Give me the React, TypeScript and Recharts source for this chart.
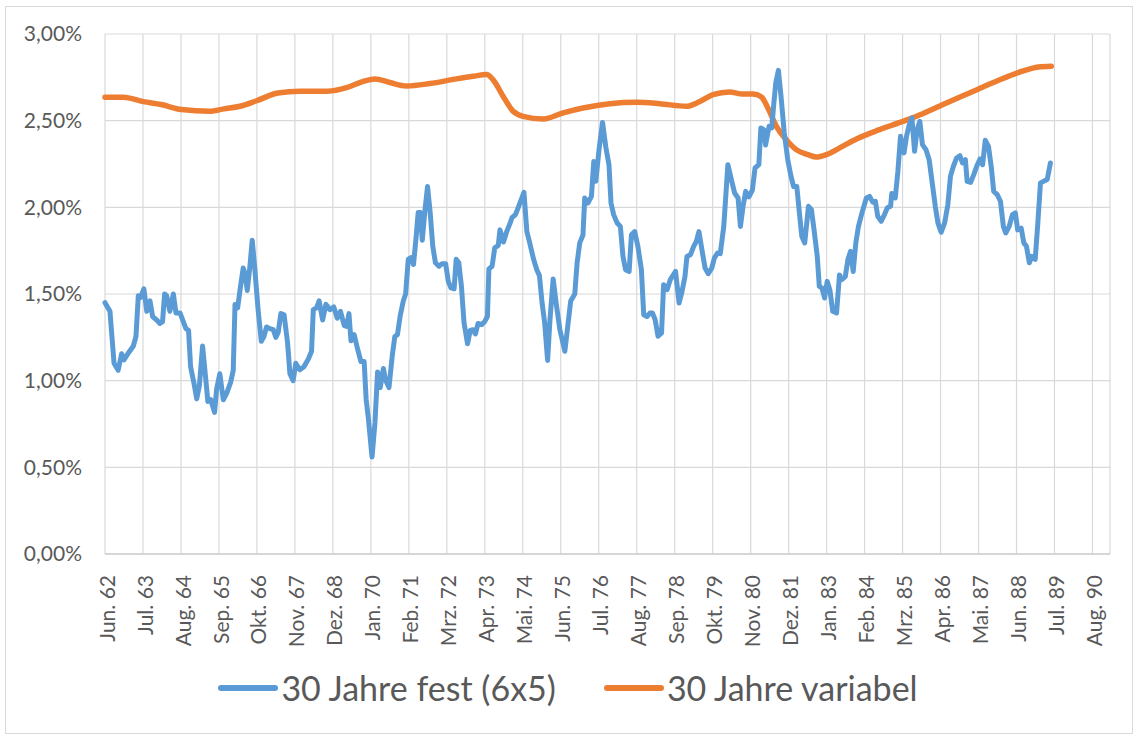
import { LineChart, Line, XAxis, YAxis, CartesianGrid } from 'recharts';

// month index 0 = Jun. 62; labels every 13 months, as on the original axis
const tickLabels = [
  'Jun. 62', 'Jul. 63', 'Aug. 64', 'Sep. 65', 'Okt. 66', 'Nov. 67', 'Dez. 68',
  'Jan. 70', 'Feb. 71', 'Mrz. 72', 'Apr. 73', 'Mai. 74', 'Jun. 75', 'Jul. 76',
  'Aug. 77', 'Sep. 78', 'Okt. 79', 'Nov. 80', 'Dez. 81', 'Jan. 83', 'Feb. 84',
  'Mrz. 85', 'Apr. 86', 'Mai. 87', 'Jun. 88', 'Jul. 89', 'Aug. 90',
];
const tickMonths = tickLabels.map((_, i) => i * 13);
const lastMonth = 344;

const yTicks = [0, 0.5, 1, 1.5, 2, 2.5, 3];

// 30 Jahre fest (6x5): [month, rate in %]
const fixedSeries: [number, number][] = [
  [0, 1.45], [1.7, 1.4], [3.1, 1.1], [4.5, 1.06], [5.7, 1.155], [6.5, 1.12], [8, 1.16],
  [9.7, 1.2], [10.6, 1.255], [11.4, 1.49], [12.2, 1.48], [13.3, 1.53], [14.3, 1.4],
  [15.4, 1.46], [16.3, 1.37], [17.7, 1.35], [18.8, 1.33], [19.7, 1.34], [20.4, 1.5],
  [21.1, 1.49], [22.2, 1.4], [23.4, 1.5], [24.3, 1.39], [25.7, 1.39], [26.8, 1.34],
  [27.7, 1.3], [28.6, 1.29], [29.3, 1.08], [30.4, 0.99], [31.4, 0.895], [32.3, 0.97],
  [33.4, 1.2], [34.6, 0.99], [35.2, 0.88], [36.2, 0.89], [37.5, 0.817], [38.2, 0.95],
  [39.3, 1.04], [40.5, 0.89], [41.6, 0.925], [43, 0.99], [43.9, 1.06], [44.5, 1.44],
  [45.4, 1.42], [46.4, 1.545], [47.3, 1.65], [47.9, 1.62], [48.7, 1.52], [49.6, 1.66],
  [50.4, 1.81], [51.3, 1.64], [52.4, 1.41], [53.5, 1.227], [54.4, 1.255], [55.3, 1.31],
  [56.4, 1.3], [57.6, 1.294], [58.5, 1.25], [59.3, 1.28], [60.2, 1.387], [61.3, 1.38],
  [62.5, 1.217], [63.3, 1.04], [64.4, 1.0], [65.3, 1.1], [66.7, 1.063], [68.1, 1.08],
  [69.6, 1.125], [70.7, 1.17], [71.3, 1.41], [72.4, 1.42], [73.3, 1.46], [74.5, 1.35],
  [75.6, 1.44], [77, 1.41], [78.3, 1.425], [79.5, 1.36], [80.6, 1.4], [81.9, 1.317],
  [82.7, 1.313], [83.5, 1.387], [84.2, 1.23], [85.3, 1.265], [86.5, 1.18], [87.6, 1.11],
  [88.7, 1.11], [89.4, 0.89], [90.1, 0.79], [91.4, 0.56], [92.4, 0.756], [93.3, 1.05],
  [94.2, 0.96], [95.3, 1.07], [96, 1.006], [97.2, 0.96], [98.3, 1.14], [99.2, 1.255],
  [100.1, 1.265], [101, 1.37], [102.1, 1.46], [102.9, 1.5], [103.8, 1.7], [104.7, 1.71],
  [105.6, 1.67], [106.5, 1.83], [107.2, 1.97], [107.9, 1.97], [108.6, 1.81], [109.5, 1.98],
  [110.4, 2.12], [111.3, 1.97], [112.2, 1.775], [113.1, 1.68], [114.3, 1.66], [115.4, 1.675],
  [116.6, 1.675], [117.5, 1.573], [118.4, 1.535], [119.5, 1.53], [120.2, 1.7], [121.1, 1.68],
  [122, 1.544], [122.9, 1.333], [124.1, 1.213], [125, 1.29], [125.9, 1.294], [126.8, 1.27],
  [127.7, 1.33], [128.9, 1.323], [130, 1.342], [130.9, 1.37], [131.4, 1.645], [132.5, 1.66],
  [133.4, 1.766], [134.6, 1.78], [135.2, 1.87], [136.4, 1.8], [137.5, 1.86], [138.7, 1.91],
  [139.3, 1.94], [140.5, 1.958], [141.6, 2.006], [143.4, 2.087], [144.4, 1.86], [145.3, 1.8],
  [146.7, 1.7], [147.8, 1.64], [148.7, 1.606], [149.6, 1.45], [150.5, 1.333], [151.5, 1.117],
  [152.3, 1.35], [153.4, 1.587], [154.4, 1.45], [155.7, 1.294], [157.4, 1.17], [159.4, 1.46],
  [160.8, 1.5], [161.6, 1.68], [162.5, 1.795], [163.6, 1.84], [164.2, 2.054], [165.3, 2.025],
  [166.5, 2.063], [167.3, 2.265], [168, 2.15], [169.1, 2.333], [170.3, 2.49], [171.4, 2.35],
  [172.5, 2.246], [173.2, 2.025], [174.1, 1.958], [175.3, 1.91], [176.4, 1.89], [177.3, 1.717],
  [178.2, 1.64], [179.4, 1.63], [180.2, 1.842], [181.3, 1.86], [182.4, 1.775], [183.6, 1.64],
  [184.4, 1.38], [185.5, 1.37], [186.5, 1.39], [187.4, 1.39], [188.3, 1.352], [189.3, 1.256],
  [190.5, 1.275], [191.2, 1.554], [192.4, 1.525], [193.5, 1.583], [195.3, 1.63], [196.5, 1.448],
  [197.4, 1.506], [198.5, 1.6], [199.2, 1.717], [200.4, 1.727], [201.5, 1.775], [202.4, 1.804],
  [203.3, 1.86], [204.5, 1.737], [205.4, 1.65], [206.5, 1.617], [207.7, 1.65], [208.6, 1.708],
  [209.7, 1.737], [210.6, 1.733], [211.8, 1.89], [213.2, 2.246], [214.4, 2.16], [215.5, 2.083],
  [216.7, 2.054], [217.5, 1.89], [218.4, 2.006], [219.3, 2.092], [220.4, 2.06], [221.6, 2.1],
  [222.5, 2.227], [223.8, 2.246], [224.5, 2.458], [225.5, 2.448], [226.1, 2.36], [227.3, 2.467],
  [228.2, 2.458], [228.9, 2.593], [229.6, 2.718], [230.5, 2.79], [231.4, 2.64], [232.5, 2.43],
  [233.7, 2.275], [234.8, 2.18], [235.7, 2.12], [236.8, 2.12], [237.8, 1.948], [238.5, 1.833],
  [239.5, 1.795], [240.8, 2.006], [241.8, 1.987], [242.7, 1.87], [243.8, 1.717], [244.5, 1.544],
  [245.4, 1.535], [246.3, 1.477], [247.2, 1.573], [248.1, 1.525], [249.1, 1.4], [250.4, 1.39],
  [251.4, 1.61], [252.2, 1.583], [253.4, 1.6], [254.3, 1.7], [255.2, 1.746], [256.1, 1.63],
  [257, 1.795], [257.9, 1.89], [259.1, 1.968], [260.6, 2.054], [261.7, 2.063], [262.8, 2.03],
  [263.7, 2.035], [264.5, 1.948], [265.7, 1.92], [266.8, 1.958], [267.8, 1.997], [268.9, 2.006],
  [269.3, 2.08], [270.5, 2.054], [271.4, 2.208], [272.3, 2.41], [273.5, 2.314], [274.4, 2.414],
  [275.3, 2.477], [276.2, 2.516], [277.1, 2.323], [278, 2.448], [278.9, 2.496], [279.8, 2.362],
  [281, 2.333], [282.1, 2.275], [283, 2.16], [284.2, 2.006], [285.1, 1.91], [286.2, 1.856],
  [287.4, 1.91], [288.5, 2.016], [289.4, 2.18], [290.4, 2.237], [291.5, 2.285], [292.6, 2.298],
  [293.5, 2.256], [294.5, 2.275], [295.1, 2.15], [296.3, 2.144], [297.4, 2.19], [298.6, 2.246],
  [299.5, 2.279], [300.4, 2.246], [301.3, 2.387], [302.4, 2.352], [303.4, 2.227], [304.2, 2.092],
  [305.4, 2.073], [306.5, 2.035], [307.5, 1.89], [308.3, 1.852], [309.5, 1.89], [310.6, 1.958],
  [311.6, 1.968], [312.4, 1.87], [313.6, 1.88], [314.5, 1.795], [315.4, 1.775], [316.4, 1.68],
  [317.2, 1.717], [318.4, 1.7], [319.3, 1.91], [320.2, 2.14], [321.3, 2.15], [322.5, 2.16],
  [323.6, 2.256],
];

// 30 Jahre variabel: [month, rate in %]
const variableSeries: [number, number][] = [
  [0, 2.635], [6.3, 2.635], [13.1, 2.61], [19.2, 2.593], [26.2, 2.564], [35.9, 2.554],
  [40.7, 2.568], [46.2, 2.583], [51.9, 2.615], [59.2, 2.66], [66.7, 2.67], [76.3, 2.67],
  [82.7, 2.69], [88.4, 2.727], [92.4, 2.741], [97.5, 2.72], [103.2, 2.7], [111.2, 2.714],
  [120.3, 2.741], [126, 2.756], [130.6, 2.766], [132.8, 2.737], [136.3, 2.64], [139.7, 2.554],
  [143.1, 2.525], [150, 2.51], [156.8, 2.545], [163.6, 2.573], [172.8, 2.598], [181.9, 2.606],
  [189.9, 2.598], [199, 2.583], [203.6, 2.61], [208.1, 2.65], [213.8, 2.666], [217.8, 2.654],
  [221.8, 2.654], [224.7, 2.637], [226.9, 2.573], [229.8, 2.467], [233.2, 2.39], [236.6, 2.333],
  [240.6, 2.304], [243.5, 2.29], [246.9, 2.304], [251.5, 2.343], [257.2, 2.394], [265.1, 2.448],
  [273.1, 2.496], [279.9, 2.54], [288, 2.602], [295.9, 2.66], [305.1, 2.727], [313, 2.78],
  [319.5, 2.81], [323.9, 2.814],
];

const fixedData = fixedSeries.map(([m, v]) => ({ m, v }));
const variableData = variableSeries.map(([m, v]) => ({ m, v }));

const BLUE = '#5B9BD5';
const ORANGE = '#ED7D31';
const TEXT = '#595959';
const FONT = 'Lato, "Open Sans", sans-serif';

const labelFor = (m: number) => tickLabels[Math.round(m / 13)] ?? '';

const XTick = ({ x, y, payload }: any) => (
  <g transform={`translate(${x + 2},${y})`}>
    <text
      transform="rotate(-90)"
      x={-13}
      y={0}
      dy="0.36em"
      textAnchor="end"
      fill={TEXT}
      fontSize={21}
      fontFamily={FONT}
    >
      {labelFor(payload.value)}
    </text>
  </g>
);

export default function App() {
  return (
    <div style={{ position: 'absolute', left: 0, top: 0, width: 1136, height: 736, background: '#fff' }}>
      <div
        style={{
          position: 'absolute',
          left: 5,
          top: 6,
          width: 1126,
          height: 726,
          border: '1px solid #d9d9d9',
        }}
      />
      <div style={{ position: 'absolute', left: 0, top: 0 }}>
        <LineChart width={1136} height={736} margin={{ top: 34, right: 26, left: 0, bottom: 82 }}>
          <CartesianGrid stroke="#d9d9d9" strokeWidth={1.2} />
          <XAxis
            type="number"
            dataKey="m"
            domain={[0, lastMonth]}
            ticks={tickMonths}
            interval={0}
            height={100}
            tick={<XTick />}
            tickLine={false}
            stroke="#cfcfcf"
            strokeWidth={1.5}
          />
          <YAxis
            type="number"
            domain={[0, 3]}
            ticks={yTicks}
            width={105}
            axisLine={false}
            tickLine={false}
            tickSize={0}
            tickMargin={23}
            tickFormatter={(v: number) => v.toFixed(2).replace('.', ',') + '%'}
            tick={{ fill: TEXT, fontSize: 21, fontFamily: FONT }}
          />
          <Line
            data={variableData}
            dataKey="v"
            type="monotone"
            stroke={ORANGE}
            strokeWidth={5.5}
            dot={false}
            activeDot={false}
            strokeLinecap="round"
            isAnimationActive={false}
          />
          <Line
            data={fixedData}
            dataKey="v"
            type="linear"
            stroke={BLUE}
            strokeWidth={5}
            strokeLinejoin="round"
            strokeLinecap="round"
            dot={false}
            activeDot={false}
            isAnimationActive={false}
          />
        </LineChart>
      </div>
      <div
        style={{
          position: 'absolute',
          left: 0,
          top: 667,
          width: 1136,
          display: 'flex',
          justifyContent: 'center',
          alignItems: 'center',
          fontFamily: FONT,
          fontSize: 34,
          color: TEXT,
          gap: 48,
        }}
      >
        {[
          { name: '30 Jahre fest (6x5)', color: BLUE },
          { name: '30 Jahre variabel', color: ORANGE },
        ].map((item) => (
          <div key={item.name} style={{ display: 'flex', alignItems: 'center' }}>
            <span
              style={{
                display: 'inline-block',
                width: 60,
                height: 6,
                borderRadius: 3,
                background: item.color,
                marginRight: 3,
              }}
            />
            <span>{item.name}</span>
          </div>
        ))}
      </div>
    </div>
  );
}
